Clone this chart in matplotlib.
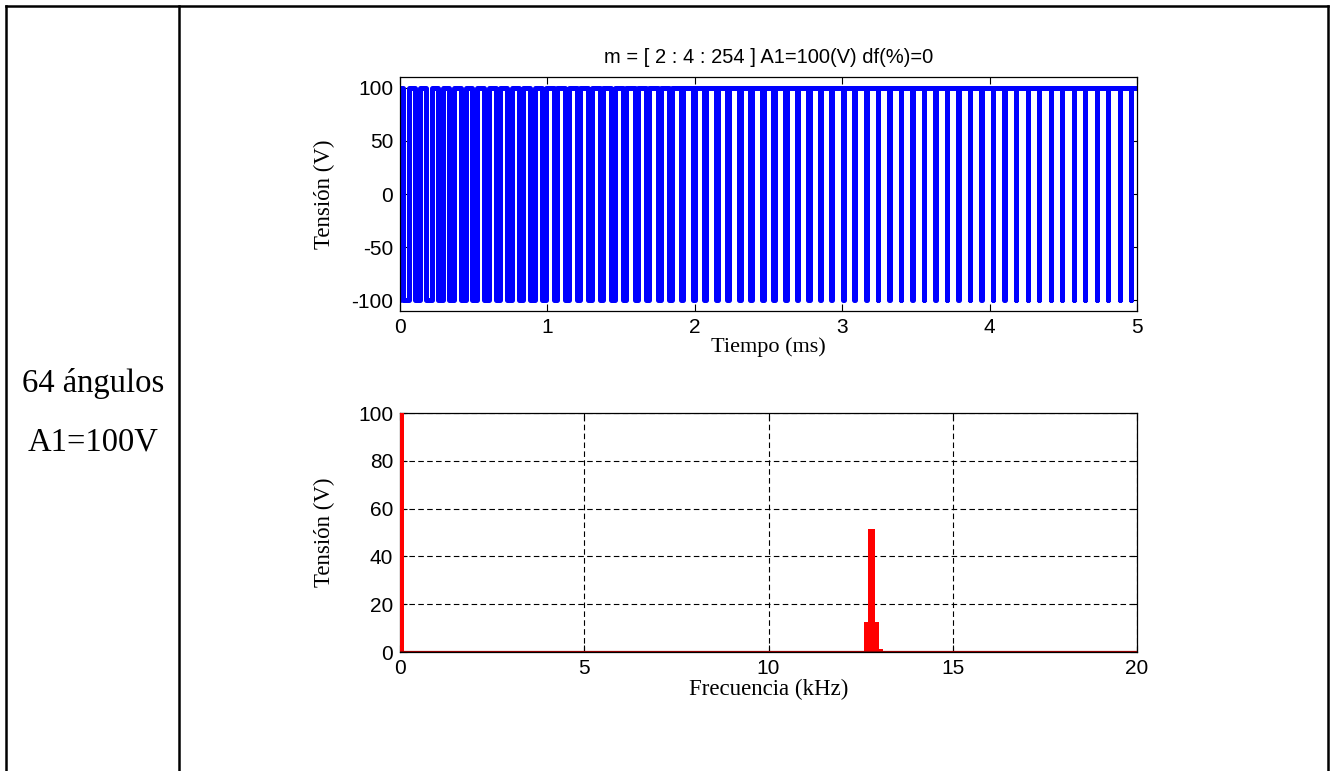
import numpy as np
import matplotlib
matplotlib.use("Agg")
import matplotlib.pyplot as plt
from matplotlib.lines import Line2D

plt.rcParams["axes.unicode_minus"] = False

# PWM output: one negative dip per carrier period (centre and width in microseconds)
dip_center_us = [39.1, 117.2, 195.3, 273.4, 351.6, 429.7, 507.8, 585.9, 664.1, 742.2,
                 820.3, 898.4, 976.6, 1054.7, 1132.8, 1210.9, 1289.1, 1367.2, 1445.3, 1523.4,
                 1601.6, 1679.7, 1757.8, 1835.9, 1914.1, 1992.2, 2070.3, 2148.4, 2226.6, 2304.7,
                 2382.8, 2460.9, 2539.1, 2617.2, 2695.3, 2773.4, 2851.6, 2929.7, 3007.8, 3085.9,
                 3164.1, 3242.2, 3320.3, 3398.4, 3476.6, 3554.7, 3632.8, 3710.9, 3789.1, 3867.2,
                 3945.3, 4023.4, 4101.6, 4179.7, 4257.8, 4335.9, 4414.1, 4492.2, 4570.3, 4648.4,
                 4726.6, 4804.7, 4882.8, 4960.9]
dip_width_us = [38.6, 37.6, 36.7, 35.7, 34.8, 33.8, 32.9, 31.9, 31.0, 30.0,
                29.1, 28.2, 27.3, 26.4, 25.5, 24.6, 23.7, 22.8, 21.9, 21.1,
                20.2, 19.4, 18.6, 17.8, 17.0, 16.2, 15.4, 14.7, 13.9, 13.2,
                12.5, 11.8, 11.1, 10.4, 9.8, 9.2, 8.6, 8.0, 7.4, 6.9,
                6.3, 5.8, 5.3, 4.8, 4.4, 4.0, 3.6, 3.2, 2.8, 2.5,
                2.1, 1.8, 1.6, 1.3, 1.1, 0.9, 0.7, 0.5, 0.4, 0.2,
                0.1, 0.1, 0.0, 0.0]
A1 = 100.0
t_end_ms = 5.0

# harmonic spectrum (orders of 50 Hz) and amplitudes in volts
f0_khz = 0.05
harm_order = [1, 253, 255, 257, 259, 261]
harm_amp = [100.0, 12.7, 51.5, 51.5, 12.7, 1.2]

# build the step waveform
t = [0.0, 0.0]
v = [-A1, A1]
for c, d in zip(dip_center_us, dip_width_us):
    t1 = (c - d / 2) / 1000.0
    t2 = (c + d / 2) / 1000.0
    t += [t1, t1, t2, t2]
    v += [A1, -A1, -A1, A1]
t.append(t_end_ms)
v.append(A1)

sans = "Liberation Sans"
serif = "Liberation Serif"

fig = plt.figure(figsize=(13.3, 7.71), dpi=100, facecolor="white")

# table frame
for xs, ys in [([0.0045, 0.9983], [0.9922, 0.9922]),
               ([0.0045, 0.0045], [0.0, 0.9922]),
               ([0.1346, 0.1346], [0.0, 0.9922]),
               ([0.9983, 0.9983], [0.0, 0.9922])]:
    fig.add_artist(Line2D(xs, ys, transform=fig.transFigure, color="black", lw=1.8))

fig.text(0.0699, 0.502, "64 ángulos", family=serif, fontsize=23.5, ha="center", va="center")
fig.text(0.0699, 0.427, "A1=100V", family=serif, fontsize=23.5, ha="center", va="center")


def style_axes(ax):
    ax.tick_params(direction="in", top=True, right=True, length=5, width=0.8,
                   labelsize=15, pad=5)
    for lab in ax.get_xticklabels() + ax.get_yticklabels():
        lab.set_family(sans)
    for s in ax.spines.values():
        s.set_linewidth(0.9)


# time domain
ax1 = fig.add_axes([0.3008, 0.5966, 0.5541, 0.3035])
ax1.plot(t, v, color="#0000ff", lw=3.6, solid_joinstyle="round", solid_capstyle="round")
ax1.set_xlim(0, 5)
ax1.set_ylim(-110, 110)
ax1.set_xticks([0, 1, 2, 3, 4, 5])
ax1.set_yticks([-100, -50, 0, 50, 100])
style_axes(ax1)
ax1.set_title("m = [ 2 : 4 : 254 ] A1=100(V) df(%)=0", family=sans, fontsize=14.5, pad=10)
ax1.set_xlabel("Tiempo (ms)", family=serif, fontsize=16)
ax1.set_ylabel("Tensión (V)", family=serif, fontsize=16.5)
ax1.xaxis.set_label_coords(0.5, -0.112)
ax1.yaxis.set_label_coords(-0.088, 0.5)

# frequency domain
ax2 = fig.add_axes([0.3008, 0.1543, 0.5541, 0.31])
freqs = [o * f0_khz for o in harm_order]
ax2.bar(freqs, harm_amp, width=0.095, color="#ff0000", edgecolor="none", zorder=3)
ax2.axhline(0, color="#8b0000", lw=1.6, zorder=4)
ax2.set_xlim(0, 20)
ax2.set_ylim(0, 100)
ax2.set_xticks([0, 5, 10, 15, 20])
ax2.set_yticks([0, 20, 40, 60, 80, 100])
ax2.grid(True, color="black", lw=0.8, linestyle=(0, (5, 3)))
ax2.set_axisbelow(True)
style_axes(ax2)
ax2.set_xlabel("Frecuencia (kHz)", family=serif, fontsize=16.5)
ax2.set_ylabel("Tensión (V)", family=serif, fontsize=16.5)
ax2.xaxis.set_label_coords(0.5, -0.112)
ax2.yaxis.set_label_coords(-0.088, 0.5)

fig.savefig("out.png", dpi=100, facecolor="white")
